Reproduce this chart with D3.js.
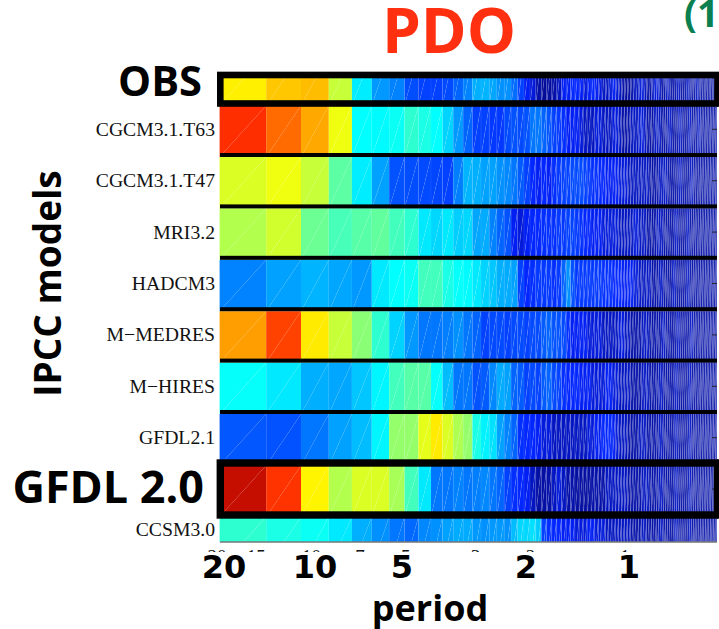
<!DOCTYPE html>
<html><head><meta charset="utf-8">
<script src="https://cdn.jsdelivr.net/npm/d3@7/dist/d3.min.js"></script>
<style>html,body{margin:0;padding:0;background:#fff;overflow:hidden}svg{display:block}</style>
</head><body><svg id="c" width="719" height="629"></svg>
<script>
const models = ["OBS","CGCM3.1.T63","CGCM3.1.T47","MRI3.2","HADCM3","M\u2212MEDRES","M\u2212HIRES","GFDL2.1","GFDL 2.0","CCSM3.0"];
const smallLabels = ["CGCM3.1.T63","CGCM3.1.T47","MRI3.2","HADCM3","M\u2212MEDRES","M\u2212HIRES","GFDL2.1","CCSM3.0"];
const bigPeriods = [20,10,5,2,1];
const smallPeriods = [20,15,10,7,5,3,2,1];

// Power per frequency cell, on the 0-100 colour range.
const obs = [64,68,69,57,35.5,26,23.5,17.5,16,16,17,20,23.5,28.5,29,27.5,25,25,21,16,12,11,9,7,8,9,10,12,12,13,13,12,11,12,13,12,11,10,10,11,12,11,10,9,8,8,9,10,10,11,11,10,9,9,10,11,11,10,9,9,10,10,9,9,9,10,10,9,9,9,10,10,9,9,9,10,10,9,9,9,9,9,9,9,9,9,9,9,9,9,9];
const t63 = [83,77,71,61,37.5,37,38.5,42,40,37.5,32.5,26,20,16,16,15,15,17,18,17,18,22,22,20,18,16,15,14,12,12,12,11,10,10,10,11,11,10,10,10,11,11,10,9,9,9,10,10,10,11,11,10,9,9,9,10,10,10,9,9,9,10,10,9,9,9,10,10,9,9,9,10,10,9,9,9,10,10,9,9,9,9,9,9,9,9,9,9,9,9,9];
const t47 = [59,61,57,46.5,35.5,27,18,17.5,17,16.5,16,23,29,28.5,27,27,25,24,22,19,16,13,12,13,12,14,15,16,16,17,17,17,16,15,14,14,13,13,12,12,12,12,11,11,11,10,10,10,10,10,10,10,10,9,9,9,9,10,10,10,10,9,9,9,9,9,10,10,9,9,9,9,10,10,9,9,9,9,9,9,9,9,9,9,9,9,9,9,9,9,9];
const mri = [55,58,48,44.5,46,47,44,42,35,33,35,32,33,27.5,28,23.5,20,18,12,11,12,13,13,14,14,14,15,15,16,16,15,14,13,13,12,12,12,11,11,11,11,11,10,10,10,10,10,11,11,10,10,10,9,9,9,9,10,10,10,9,9,9,9,9,10,10,9,9,9,9,10,10,9,9,9,9,9,9,9,9,9,9,9,9,9,9,9,9,9,9,9];
const hadcm3 = [23.5,27,29,27.5,26,35,37.5,38.5,44,44,40,38,37,35,32.5,31,28.5,28,27,16,13,14,15,15,15,14,15,20,25,18,15,15,15,15,15,15,15,14,14,14,13,13,13,12,12,12,12,11,11,10,10,10,10,10,9,9,9,10,10,9,9,9,9,10,10,9,9,9,9,9,10,10,9,9,9,9,9,9,9,9,9,9,9,9,9,9,9,9,9,9,9];
const medres = [72,81,64.5,57,51,42,32.5,26,22,22,23,25,22,20,16,17,17,16,17,17,16,17,17,19,20,18,18,17,14,12,12,12,12,11,11,11,11,10,10,10,10,10,11,11,10,10,9,9,9,9,10,10,10,9,9,9,9,9,10,10,9,9,9,9,9,10,10,9,9,9,9,9,10,10,9,9,9,9,9,9,9,9,9,9,9,9,9,9,9,9,9];
const hires = [38,35,28.5,27.5,31,36.5,44,46,46,38,30,22,22,18,19,24,28,27,20,19,16,17,16,19,20,17,16,14,13,13,13,12,12,12,11,11,11,11,12,12,11,11,10,10,10,10,9,9,9,9,10,10,10,9,9,9,9,10,10,9,9,9,9,9,10,10,9,9,9,9,9,10,10,9,9,9,9,9,9,9,9,9,9,9,9,9,9,9,9,9,9];
const gfdl21 = [18.5,18,22,27,30,36.5,52,52,60,64.5,59,54.5,52,40,36,34,27,23.5,20,14,13,13,12,11,11,10,10,10,10,10,10,10,10,11,11,12,12,13,13,13,12,11,10,10,10,9,9,9,9,10,10,10,9,9,9,9,9,10,10,9,9,9,9,9,10,10,9,9,9,9,9,10,10,9,9,9,9,9,9,9,9,9,9,9,9,9,9,9,9,9,9];
const gfdl20 = [96,82.5,63.5,55,59,59,54,44,35,22,22,23.5,22,23,24,22,20,16,14,13,12,10,8.5,8.5,9,10,11,10,9,9,8,8,8,8,9,9,9,9,10,10,10,10,10,10,10,9,9,9,9,9,10,10,10,9,9,9,9,10,10,9,9,9,9,9,10,10,9,9,9,9,9,10,10,9,9,9,9,9,9,9,9,9,9,9,9,9,9,9,9];
const ccsm = [42,40,38.5,35,28.5,25,22,20.5,24,25,27,28,28,26,25,26,26,25,30,33,33,34,32,16,14,13,13,12,12,12,11,11,11,12,12,11,11,11,10,10,10,10,10,10,10,10,9,9,9,9,10,10,9,9,9,9,9,10,10,9,9,9,9,9,10,10,9,9,9,9,9,10,10,9,9,9,9,9,9,9,9,9,9,9,9,9,9,9,9,9,9];
const series = [obs,t63,t47,mri,hadcm3,medres,hires,gfdl21,gfdl20,ccsm];

const svg = d3.select("#c");
const bold = "'DejaVu Sans',sans-serif", heavy = "'Open Sans',sans-serif", serif = "'Liberation Serif',serif";
const xF = d3.scaleLog().domain([2.5,93.5]).range([219.6,721.3]);
const xP = d3.scaleLog().domain([1,20]).range([625,217]);
const y = d3.scaleBand().domain(models).range([54.2,568.2]);
const jet = d3.scaleLinear().domain([0,9,12.5,37.5,62.5,87.5,100])
  .range(["#000060","#0410a8","#0222ff","#00ffff","#ffff00","#ff0000","#aa1500"]).clamp(true);
const seamAlpha = d3.scaleLinear().domain([0,25]).range([0.02,0.24]).clamp(true);

const defs = svg.append("defs");
defs.append("clipPath").attr("id","plot").append("rect").attr("x",219).attr("y",78).attr("width",499).attr("height",464);
defs.append("clipPath").attr("id","frag").append("rect").attr("x",190).attr("y",545).attr("width",520).attr("height",7);

const plot = svg.append("g").attr("clip-path","url(#plot)");
models.forEach((m,r)=>{
  const t = y(m), b = t + y.bandwidth();
  const tri = [], seams = [];
  series[r].forEach((v,i)=>{
    const x0 = xF(2.5+i), x1 = xF(3.5+i);
    tri.push({v, d:`M${x0},${b}L${x1},${b}L${x1},${t}Z`});
    tri.push({v, d:`M${x0},${b}L${x1},${t}L${x0},${t}Z`});
    seams.push({i, d:`M${x0},${b}L${x1},${t}M${x0},${b}L${x0},${t}`});
  });
  plot.append("g").selectAll("path").data(tri).join("path").attr("d",d=>d.d).attr("fill",d=>jet(d.v));
  plot.append("g").selectAll("path").data(seams).join("path").attr("d",d=>d.d).attr("fill","none")
    .attr("stroke","#fff").attr("stroke-width",0.6).attr("stroke-opacity",d=>seamAlpha(d.i));
});

// separators between rows
svg.append("g").selectAll("rect").data(models.slice(2,8)).join("rect")
  .attr("x",220).attr("width",497).attr("y",d=>y(d)-4).attr("height",4).attr("fill","#000");

// white margin beside the plot at the far right
svg.append("rect").attr("x",717).attr("y",107).attr("width",2).attr("height",352).attr("fill","#fff");
svg.append("rect").attr("x",717).attr("y",519).attr("width",2).attr("height",24).attr("fill","#fff");

// right ticks and lower axis
svg.append("g").selectAll("line").data(models).join("line")
  .attr("x1",712).attr("x2",717).attr("y1",d=>y(d)+y.bandwidth()/2-2).attr("y2",d=>y(d)+y.bandwidth()/2-2)
  .attr("stroke","#223").attr("stroke-width",1).style("display",d=>(d==="CCSM3.0")?"none":null);
svg.append("line").attr("x1",220).attr("x2",717).attr("y1",542).attr("y2",542).attr("stroke","#777").attr("stroke-width",1.5);

// frames
const frame=(t,b,w)=>svg.append("rect").attr("x",220.3).attr("y",t).attr("width",497.2).attr("height",b-t)
  .attr("fill","none").attr("stroke","#000").attr("stroke-width",w);
frame(75,103.5,6.6);
frame(463,515,7.4);
svg.append("line").attr("x1",217).attr("x2",719).attr("y1",71.5).attr("y2",71.5).attr("stroke","#aaa").attr("stroke-width",1);

// row labels
svg.append("g").selectAll("text").data(smallLabels).join("text")
  .attr("x",215).attr("y",d=>d==="CCSM3.0"?536:y(d)+y.bandwidth()/2+4.5)
  .attr("text-anchor","end").attr("font-family",serif).attr("font-size",19.7).attr("fill","#111").text(d=>d);

// remains of the original small period labels
svg.append("g").attr("clip-path","url(#frag)").selectAll("text").data(smallPeriods).join("text")
  .attr("x",d=>xP(d)).attr("y",563).attr("text-anchor","middle").attr("font-family",serif).attr("font-size",19).attr("fill","#111").text(d=>d);

// large period labels
const nudge = {20:7,10:3.6,5:-3.8,2:-4.6,1:4};
svg.append("g").selectAll("text").data(bigPeriods).join("text")
  .attr("x",d=>xP(d)+nudge[d]).attr("y",578).attr("text-anchor","middle")
  .attr("font-family",bold).attr("font-weight","bold").attr("font-size",32).attr("fill","#000").text(d=>d);

const big=(txt,x,yy,size,color,anchor,rot)=>{
  const t = svg.append("text").attr("font-family",heavy).attr("font-weight","bold").attr("font-size",size)
    .attr("fill",color).attr("text-anchor",anchor).text(txt);
  if(rot) t.attr("transform",`translate(${x},${yy}) rotate(${rot})`); else t.attr("x",x).attr("y",yy);
};
big("OBS",202,96,41.6,"#000","end");
big("GFDL 2.0",204,503,44.9,"#000","end");
big("IPCC models",61,283.5,37,"#000","middle",-90);
big("period",430,621,36,"#000","middle");
big("PDO",449,53,62,"#ff3010","middle");
big("(1",684,27,38,"#0a7f4f","start");
</script></body></html>
